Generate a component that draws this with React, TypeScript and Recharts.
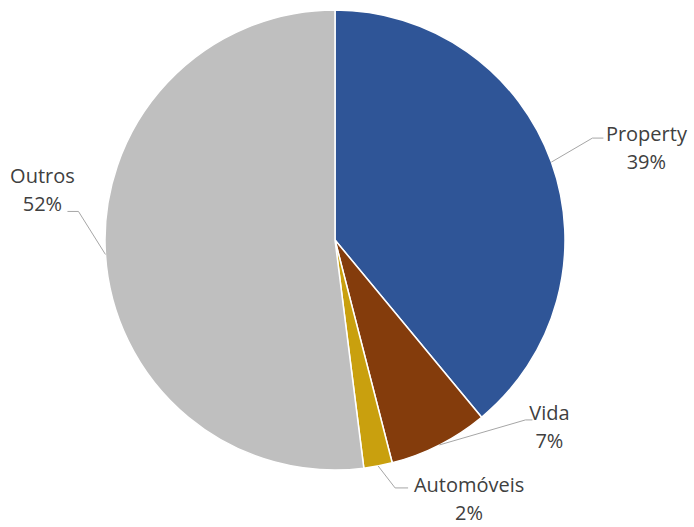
import { PieChart, Pie, Cell } from "recharts";

const categories = ["Property", "Vida", "Automóveis", "Outros"];
const shares = [39, 7, 2, 52];
const colors = ["#2F5597", "#843C0C", "#C9A00E", "#BFBFBF"];

const data = categories.map((name, i) => ({ name, value: shares[i] }));

// label placement relative to the slice's outer point (Excel best-fit style)
const labelLayout = [
  { elbow: [41, -24], endX: 52, text: [95, -29] },
  { elbow: [86, -25], endX: 93, text: [110, -32] },
  { elbow: [17, 22], endX: 30, text: [91, 19] },
  { elbow: [-27, -43], endX: -38, text: [-63, -79] },
];

const RAD = Math.PI / 180;

function renderLabel(props: any) {
  const { cx, cy, midAngle, outerRadius, index, name, value } = props;
  const px = cx + outerRadius * Math.cos(-midAngle * RAD);
  const py = cy + outerRadius * Math.sin(-midAngle * RAD);
  const l = labelLayout[index];
  const ex = px + l.elbow[0];
  const ey = py + l.elbow[1];
  const tx = px + l.text[0];
  const ty = py + l.text[1];
  return (
    <g key={`lbl-${index}`}>
      <polyline
        points={`${px},${py} ${ex},${ey} ${px + l.endX},${ey}`}
        fill="none"
        stroke="#A6A6A6"
        strokeWidth={1}
      />
      <text
        x={tx}
        y={ty}
        textAnchor="middle"
        dominantBaseline="central"
        fill="#404040"
        fontSize={20}
        fontFamily="'Open Sans', sans-serif"
      >
        {name}
      </text>
      <text
        x={tx}
        y={ty + 28}
        textAnchor="middle"
        dominantBaseline="central"
        fill="#404040"
        fontSize={20}
        fontFamily="'Open Sans', sans-serif"
      >
        {`${value}%`}
      </text>
    </g>
  );
}

export default function App() {
  return (
    <div style={{ position: "absolute", left: 0, top: 0, background: "#fff" }}>
      <PieChart width={694} height={527} margin={{ top: 0, right: 0, bottom: 0, left: 0 }}>
        <Pie
          data={data}
          dataKey="value"
          nameKey="name"
          cx={335}
          cy={240}
          outerRadius={230}
          startAngle={90}
          endAngle={-270}
          stroke="#ffffff"
          strokeWidth={1.5}
          label={renderLabel}
          labelLine={false}
          isAnimationActive={false}
        >
          {data.map((d, i) => (
            <Cell key={d.name} fill={colors[i]} />
          ))}
        </Pie>
      </PieChart>
    </div>
  );
}
